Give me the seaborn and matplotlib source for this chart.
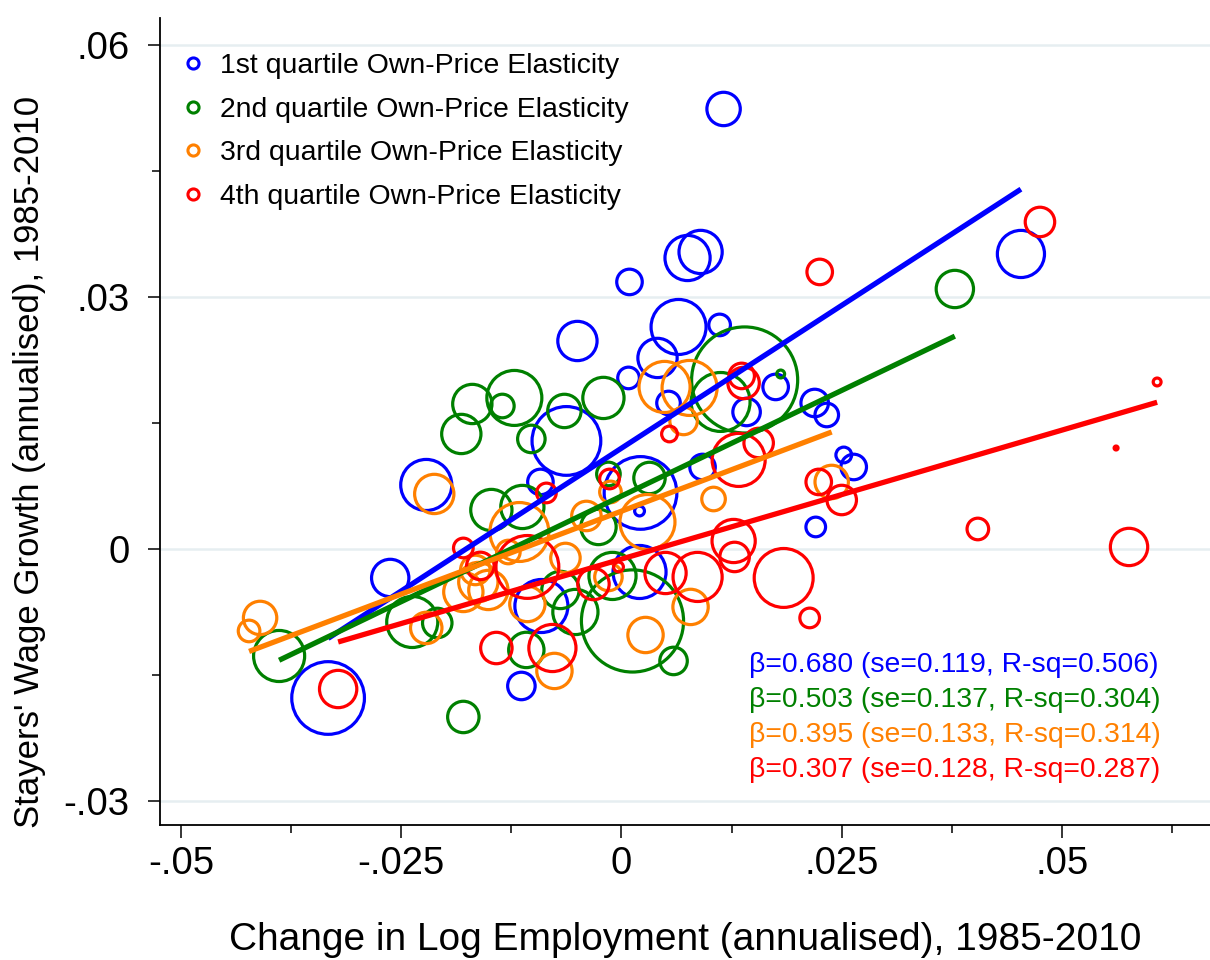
import numpy as np
import pandas as pd
import matplotlib
matplotlib.use("Agg")
import matplotlib.pyplot as plt
from matplotlib.lines import Line2D
import seaborn as sns

# ---------------- data ----------------
groups = ["1st quartile Own-Price Elasticity", "2nd quartile Own-Price Elasticity",
          "3rd quartile Own-Price Elasticity", "4th quartile Own-Price Elasticity"]
colors = ["#0000ff", "#008000", "#ff8000", "#ff0000"]

q1_x = [0.01159, 0.04534, 0.0075, 0.00898, 0.00091, 0.00648, 0.01114, -0.0050, 0.00409, 0.0008,
        0.00534, 0.0175, 0.0142, 0.02193, 0.0233, -0.00625, 0.0092, 0.02523, 0.02636, 0.00216,
        0.00205, -0.0092, -0.02216, 0.02205, -0.02625, -0.00909, 0.00205, -0.0333, -0.01136]
q1_y = [0.05238, 0.03512, 0.03464, 0.03536, 0.03179, 0.02643, 0.02667, 0.02476, 0.02274, 0.02036,
        0.01738, 0.01929, 0.01631, 0.01738, 0.01595, 0.01286, 0.00976, 0.01119, 0.00976, 0.00667,
        0.00452, 0.00798, 0.00762, 0.00262, -0.00345, -0.00679, -0.00274, -0.01774, -0.01631]
q1_w = [2.89, 5.76, 5.29, 4.84, 1.69, 7.84, 1.21, 4.0, 4.0, 1.21,
        1.44, 1.69, 1.96, 1.96, 1.44, 12.25, 1.69, 0.64, 1.69, 13.69,
        0.25, 1.69, 6.76, 1.0, 3.61, 7.29, 7.29, 13.69, 1.96]

q2_x = [0.03784, 0.01398, 0.01125, 0.01807, -0.01216, -0.01693, -0.01352, -0.01818, -0.01023, -0.00648,
        -0.00205, 0.00318, -0.00148, -0.01477, -0.01125, -0.00261, -0.00693, -0.00523, -0.00102, 0.00125,
        0.00591, -0.02375, -0.02091, -0.03886, -0.01795, -0.0108]
q2_y = [0.03095, 0.02012, 0.0175, 0.02083, 0.01798, 0.01726, 0.01702, 0.01369, 0.0131, 0.01643,
        0.01798, 0.00845, 0.00893, 0.00464, 0.005, 0.00262, -0.00488, -0.0075, -0.00321, -0.00857,
        -0.01333, -0.00869, -0.00881, -0.01274, -0.02, -0.01202]
q2_w = [3.61, 29.16, 9.0, 0.16, 7.84, 4.0, 1.44, 4.0, 1.96, 2.89,
        4.41, 2.56, 1.44, 4.41, 4.84, 3.24, 3.61, 5.29, 5.76, 27.04,
        1.96, 6.76, 2.25, 6.76, 2.56, 3.24]

q3_x = [0.00489, 0.00773, 0.00705, 0.02386, 0.01045, 0.00295, -0.00125, -0.00398, -0.02125, -0.01159,
        -0.01284, -0.01659, -0.01625, -0.01795, -0.01511, -0.00636, -0.01068, -0.00148, 0.00784, 0.00273,
        -0.02216, -0.04102, -0.04227, -0.00761]
q3_y = [0.01929, 0.01917, 0.01524, 0.00798, 0.00595, 0.00321, 0.00679, 0.00393, 0.00655, 0.00202,
        -0.00036, -0.0025, -0.00393, -0.00512, -0.00488, -0.00107, -0.00655, -0.00333, -0.0069, -0.01024,
        -0.0094, -0.00821, -0.00976, -0.01452]
q3_w = [6.76, 7.84, 1.96, 2.89, 1.44, 7.84, 1.21, 2.25, 4.0, 9.0,
        1.44, 2.25, 4.0, 4.0, 4.0, 2.25, 3.24, 1.96, 3.24, 3.24,
        2.56, 2.89, 1.21, 3.24]

q4_x = [0.0475, 0.0225, 0.01364, 0.01386, 0.00545, 0.01557, 0.0133, 0.02239, 0.025, -0.00136,
        -0.00852, -0.01795, -0.01602, -0.01068, -0.00318, -0.00034, 0.005, 0.00864, 0.01273, 0.01284,
        0.01841, 0.02136, 0.04045, 0.05761, 0.0608, 0.05614, -0.03216, -0.0142, -0.00784]
q4_y = [0.03893, 0.03298, 0.0206, 0.01976, 0.01369, 0.01262, 0.0106, 0.00798, 0.00583, 0.00833,
        0.00667, 0.00012, -0.00202, -0.00214, -0.00417, -0.00214, -0.00286, -0.00333, 0.00095, -0.00095,
        -0.00345, -0.00821, 0.00238, 0.00024, 0.01988, 0.01202, -0.01667, -0.01179, -0.01179]
q4_w = [2.25, 1.69, 1.69, 2.56, 0.64, 2.25, 7.29, 1.69, 2.25, 1.0,
        1.0, 1.0, 1.96, 10.24, 2.56, 0.25, 4.41, 6.25, 4.84, 2.25,
        9.0, 1.0, 1.21, 3.61, 0.16, 0.04, 3.61, 2.56, 5.76]

betas = [0.680, 0.503, 0.395, 0.307]
ses = [0.119, 0.137, 0.133, 0.128]
rsqs = [0.506, 0.304, 0.314, 0.287]
intercepts = [0.0120, 0.0063, 0.0045, -0.0012]

xtick_vals = [-0.05, -0.025, 0, 0.025, 0.05]
xtick_labels = ["-.05", "-.025", "0", ".025", ".05"]
xminor_vals = [-0.0375, -0.0125, 0.0125, 0.0375, 0.0625]
ytick_vals = [-0.03, 0, 0.03, 0.06]
ytick_labels = ["-.03", "0", ".03", ".06"]
yminor_vals = [-0.015, 0.015, 0.045]

xlabel = "Change in Log Employment (annualised), 1985-2010"
ylabel = "Stayers' Wage Growth (annualised), 1985-2010"

# ---------------- build frame ----------------
xs = [q1_x, q2_x, q3_x, q4_x]
ys = [q1_y, q2_y, q3_y, q4_y]
ws = [q1_w, q2_w, q3_w, q4_w]
frames = []
for g, x, y, w in zip(groups, xs, ys, ws):
    frames.append(pd.DataFrame({"x": x, "y": y, "w": w, "group": g}))
df = pd.concat(frames, ignore_index=True)

sns.set_theme(style="white")
plt.rcParams["font.family"] = ["Liberation Sans", "DejaVu Sans"]
for key in ["text.color", "axes.labelcolor", "xtick.color", "ytick.color", "axes.edgecolor"]:
    plt.rcParams[key] = "black"

W, H = 1210, 960
fig = plt.figure(figsize=(W / 100, H / 100), dpi=100)
ax = fig.add_axes([160 / W, (H - 825) / H, (W - 160) / W, (825 - 18) / H])

AREA_PER_W = 200.0
wmax = df["w"].max()
sns.scatterplot(data=df, x="x", y="y", hue="group", palette=colors, hue_order=groups,
                size="w", sizes=(0, AREA_PER_W * wmax), size_norm=(0, wmax),
                linewidth=2.3, legend=False, ax=ax, zorder=2)
coll = ax.collections[-1]
fc = coll.get_facecolors()
coll.set_edgecolors(fc)
coll.set_facecolors("none")

# fitted lines over each group's range
for x, b, a, c in zip(xs, betas, intercepts, colors):
    lx = np.array([min(x), max(x)])
    sns.lineplot(x=lx, y=a + b * lx, color=c, linewidth=3.8, ax=ax, zorder=3,
                 solid_capstyle="butt")

ax.set_xlim(-0.05238, 0.06680)
ax.set_ylim(-0.03286, 0.06321)

ax.set_xticks(xtick_vals)
ax.set_xticklabels(xtick_labels)
ax.set_xticks(xminor_vals, minor=True)
ax.set_yticks(ytick_vals)
ax.set_yticklabels(ytick_labels)
ax.set_yticks(yminor_vals, minor=True)
ax.tick_params(axis="both", which="both", bottom=True, left=True, top=False, right=False,
               direction="out", color="black", width=1.1)
ax.tick_params(axis="both", which="major", length=9, labelsize=27.5)
ax.tick_params(axis="both", which="minor", length=6)
ax.tick_params(axis="x", which="major", pad=6)
ax.tick_params(axis="y", which="major", pad=13)
ax.yaxis.grid(True, color="#e6eef1", linewidth=1.8)
ax.xaxis.grid(False)
ax.set_axisbelow(True)
ax.set_xlabel("")
ax.set_ylabel("")
for s in ["top", "right"]:
    ax.spines[s].set_visible(False)
for s in ["left", "bottom"]:
    ax.spines[s].set_color("black")
    ax.spines[s].set_linewidth(1.3)

# annotation of regression results
ann_y = [-0.01381, -0.01798, -0.02214, -0.02631]
for b, se, r2, c, yy in zip(betas, ses, rsqs, colors, ann_y):
    ax.text(0.01443, yy, f"β={b:.3f} (se={se:.3f}, R-sq={r2:.3f})", color=c,
            fontsize=20.4, ha="left", va="center")

# legend
handles = [Line2D([0], [0], linestyle="none", marker="o", markersize=8,
                  markerfacecolor="none", markeredgecolor=c, markeredgewidth=2.2)
           for c in colors]
ax.legend(handles, groups, loc="upper left", bbox_to_anchor=(182 / W, 1 - 53 / H),
          bbox_transform=fig.transFigure, frameon=False, fontsize=20.4,
          handlelength=0.8, handletextpad=0.55, labelspacing=0.62,
          borderpad=0, borderaxespad=0)

fig.text(30 / W, 1 - 462 / H, ylabel, rotation=90, ha="center", va="center", fontsize=25)
fig.text(685 / W, 1 - 940 / H, xlabel, ha="center", va="center", fontsize=28)

fig.savefig("out.png", dpi=100)
